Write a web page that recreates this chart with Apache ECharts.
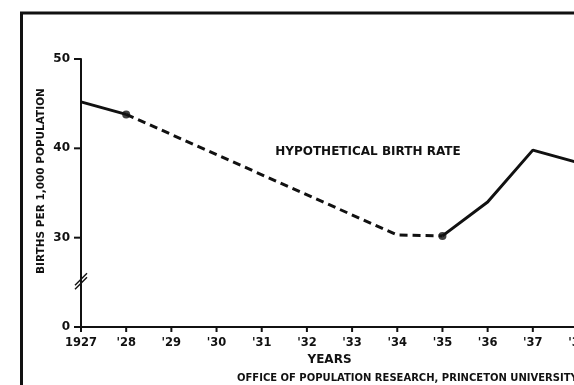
<!DOCTYPE html>
<html>
<head>
<meta charset="utf-8">
<script src="https://cdn.jsdelivr.net/npm/echarts@6/dist/echarts.min.js"></script>
<style>
  html, body { margin: 0; padding: 0; background: #fff; }
  #chart { width: 574px; height: 385px; }
</style>
</head>
<body>
<div id="chart"></div>
<script>
// Birth rate per 1,000 population, recorded (solid) and hypothetical (dashed)
const years = [1927, 1928, 1929, 1930, 1931, 1932, 1933, 1934, 1935, 1936, 1937, 1938];
const yearLabels = ['1927', "'28", "'29", "'30", "'31", "'32", "'33", "'34", "'35", "'36", "'37", "'38"];
const recordedEarly = [[1927, 45.2], [1928, 43.8]];
const hypothetical = [[1928, 43.8], [1934, 30.3], [1935, 30.2]];
const recordedLate = [[1935, 30.2], [1936, 34.0], [1937, 39.8], [1938, 38.4]];
const markedPoints = [[1928, 43.8], [1935, 30.2]];
// Broken scale: the lowest tick stands for zero
const yTickValues = [20, 30, 40, 50];
const yTickLabels = ['0', '30', '40', '50'];

const FONT = '"DejaVu Sans", sans-serif';
const INK = '#111';

const chart = echarts.init(document.getElementById('chart'), null, { renderer: 'canvas' });

const option = {
  animation: false,
  backgroundColor: '#fff',
  grid: { left: 81, top: 59, width: 497, height: 268, outerBoundsMode: 'none', containLabel: false },
  xAxis: {
    type: 'value',
    min: 1927, max: 1938, interval: 1,
    axisLine: { show: true, lineStyle: { color: INK, width: 2 } },
    axisTick: { show: false },
    axisLabel: {
      color: INK, fontFamily: FONT, fontSize: 11.5, fontWeight: 'bold', margin: 10,
      formatter: v => yearLabels[years.indexOf(Math.round(v))] || ''
    },
    splitLine: { show: false },
    name: 'YEARS', nameLocation: 'middle', nameGap: 22,
    nameTextStyle: { color: INK, fontFamily: FONT, fontSize: 12, fontWeight: 'bold' }
  },
  yAxis: {
    type: 'value',
    min: 20, max: 50, interval: 10,
    axisLine: { show: true, lineStyle: { color: INK, width: 2 } },
    axisTick: { show: false },
    axisLabel: {
      color: INK, fontFamily: FONT, fontSize: 12, fontWeight: 'bold', margin: 11,
      formatter: v => yTickLabels[yTickValues.indexOf(Math.round(v))] || ''
    },
    splitLine: { show: false }
  },
  series: [
    {
      type: 'line', data: recordedEarly, symbol: 'none',
      lineStyle: { color: INK, width: 3 }
    },
    {
      type: 'line', data: hypothetical, symbol: 'none',
      lineStyle: { color: INK, width: 3, type: [8, 5] }
    },
    {
      type: 'line', data: recordedLate, symbol: 'none',
      lineStyle: { color: INK, width: 3 }
    },
    {
      type: 'scatter', data: markedPoints, symbol: 'circle', symbolSize: 8,
      itemStyle: { color: INK }, z: 5
    }
  ]
};
chart.setOption(option);

// Decorations placed from the axes: tick marks, scale-break mark, series label, titles, frame
const toPx = p => chart.convertToPixel({ gridIndex: 0 }, p);
const tickMarks = [];
yTickValues.forEach(v => {
  const p = toPx([1927, v]);
  tickMarks.push({ type: 'line', z: 10, shape: { x1: p[0] - 7, y1: p[1], x2: p[0], y2: p[1] }, style: { stroke: INK, lineWidth: 2 } });
});
years.forEach(y => {
  const p = toPx([y, 20]);
  tickMarks.push({ type: 'line', z: 10, shape: { x1: p[0], y1: p[1], x2: p[0], y2: p[1] + 5 }, style: { stroke: INK, lineWidth: 2 } });
});
const brk = toPx([1927, 25]);
const lbl = toPx([1933.35, 39.6]);
chart.setOption({
  graphic: tickMarks.concat([
    // outer frame (left and top edges)
    { type: 'line', shape: { x1: 21.5, y1: 13, x2: 21.5, y2: 385 }, style: { stroke: INK, lineWidth: 3 } },
    { type: 'line', shape: { x1: 20, y1: 13, x2: 574, y2: 13 }, style: { stroke: INK, lineWidth: 3 } },
    // break in the vertical scale
    { type: 'line', shape: { x1: brk[0] - 6, y1: brk[1] + 3, x2: brk[0] + 6, y2: brk[1] - 9 }, style: { stroke: INK, lineWidth: 1.5 } },
    { type: 'line', shape: { x1: brk[0] - 6, y1: brk[1] + 7, x2: brk[0] + 6, y2: brk[1] - 5 }, style: { stroke: INK, lineWidth: 1.5 } },
    {
      type: 'text', x: lbl[0], y: lbl[1],
      style: { text: 'HYPOTHETICAL BIRTH RATE', fill: INK, font: 'bold 12px ' + FONT, textAlign: 'center', textVerticalAlign: 'middle' }
    },
    {
      type: 'text', x: 41, y: 181, rotation: Math.PI / 2,
      style: { text: 'BIRTHS PER 1,000 POPULATION', fill: INK, font: 'bold 10.5px ' + FONT, textAlign: 'center', textVerticalAlign: 'middle' }
    },
    {
      type: 'text', x: 237, y: 378,
      style: { text: 'OFFICE OF POPULATION RESEARCH, PRINCETON UNIVERSITY', fill: INK, font: 'bold 10px ' + FONT, textAlign: 'left', textVerticalAlign: 'middle' }
    }
  ])
});
</script>
</body>
</html>
